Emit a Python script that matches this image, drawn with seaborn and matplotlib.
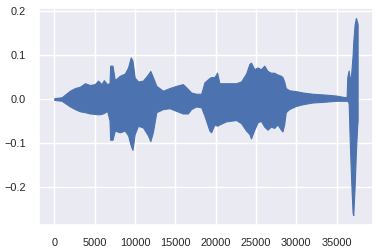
import matplotlib
matplotlib.use("Agg")
import matplotlib.pyplot as plt
import numpy as np
import pandas as pd
import seaborn as sns

# envelope of the waveform (sample index, upper, lower)
samples = [0, 910, 1940, 2550, 3170, 3790, 4410, 5020, 5430, 5850, 6140, 6540,
           6840, 6920, 7210, 7500, 8110, 8730, 9140, 9470, 9680, 9960, 10370,
           10990, 11600, 11900, 12220, 12640, 13460, 14280, 15100, 15930, 16540,
           16950, 17570, 18200, 18600, 19220, 19430, 19840, 20170, 20460, 21280,
           22520, 23140, 23760, 24170, 24370, 24780, 25190, 25600, 26010, 26420,
           26830, 27240, 27650, 28080, 28270, 28480, 28680, 29090, 29920, 30740,
           31980, 33630, 34870, 36100, 36220, 36300, 36470, 36630, 36790, 36960,
           37040, 37210, 37370, 37530, 37580]
upper = [0.002, 0.004, 0.019, 0.025, 0.028, 0.036, 0.032, 0.034, 0.042, 0.034,
         0.043, 0.034, 0.036, 0.076, 0.076, 0.043, 0.053, 0.058, 0.072, 0.095,
         0.088, 0.049, 0.040, 0.042, 0.056, 0.064, 0.050, 0.030, 0.019, 0.025,
         0.030, 0.034, 0.023, 0.015, 0.012, 0.012, 0.038, 0.048, 0.050, 0.050,
         0.060, 0.036, 0.036, 0.036, 0.040, 0.058, 0.080, 0.083, 0.068, 0.072,
         0.068, 0.076, 0.064, 0.060, 0.060, 0.056, 0.053, 0.050, 0.040, 0.025,
         0.020, 0.018, 0.015, 0.012, 0.010, 0.008, 0.004, 0.006, 0.050, 0.065,
         0.040, 0.060, 0.100, 0.130, 0.170, 0.185, 0.175, 0.170]
lower = [-0.002, -0.004, -0.017, -0.023, -0.028, -0.030, -0.033, -0.034, -0.035,
         -0.034, -0.032, -0.027, -0.049, -0.093, -0.093, -0.072, -0.076, -0.072,
         -0.083, -0.106, -0.116, -0.080, -0.061, -0.065, -0.083, -0.096, -0.075,
         -0.030, -0.023, -0.021, -0.027, -0.033, -0.033, -0.023, -0.017, -0.019,
         -0.038, -0.072, -0.076, -0.058, -0.061, -0.058, -0.051, -0.048, -0.055,
         -0.072, -0.080, -0.090, -0.070, -0.053, -0.050, -0.063, -0.070, -0.063,
         -0.066, -0.058, -0.070, -0.074, -0.058, -0.030, -0.023, -0.016, -0.012,
         -0.008, -0.006, -0.004, -0.004, -0.004, -0.002, -0.010, -0.110, -0.190,
         -0.260, -0.265, -0.200, -0.120, -0.060, -0.050]

wave_df = pd.DataFrame({"sample": samples, "upper": upper, "lower": lower})

sns.set_theme(style="darkgrid")
plt.rcParams["font.family"] = ["Liberation Sans", "DejaVu Sans"]
fig, ax = plt.subplots(figsize=(3.8, 2.52), dpi=100)
fig.subplots_adjust(left=0.103, right=0.981, top=0.968, bottom=0.107)

ax.fill_between(wave_df["sample"], wave_df["lower"], wave_df["upper"],
                color="#4c72b0", linewidth=0.8, edgecolor="#4c72b0")
ax.set_xticks([0, 5000, 10000, 15000, 20000, 25000, 30000, 35000])
ax.set_yticks([-0.2, -0.1, 0.0, 0.1, 0.2])
ax.tick_params(labelsize=7.9)

plt.savefig("out.png", dpi=100)
